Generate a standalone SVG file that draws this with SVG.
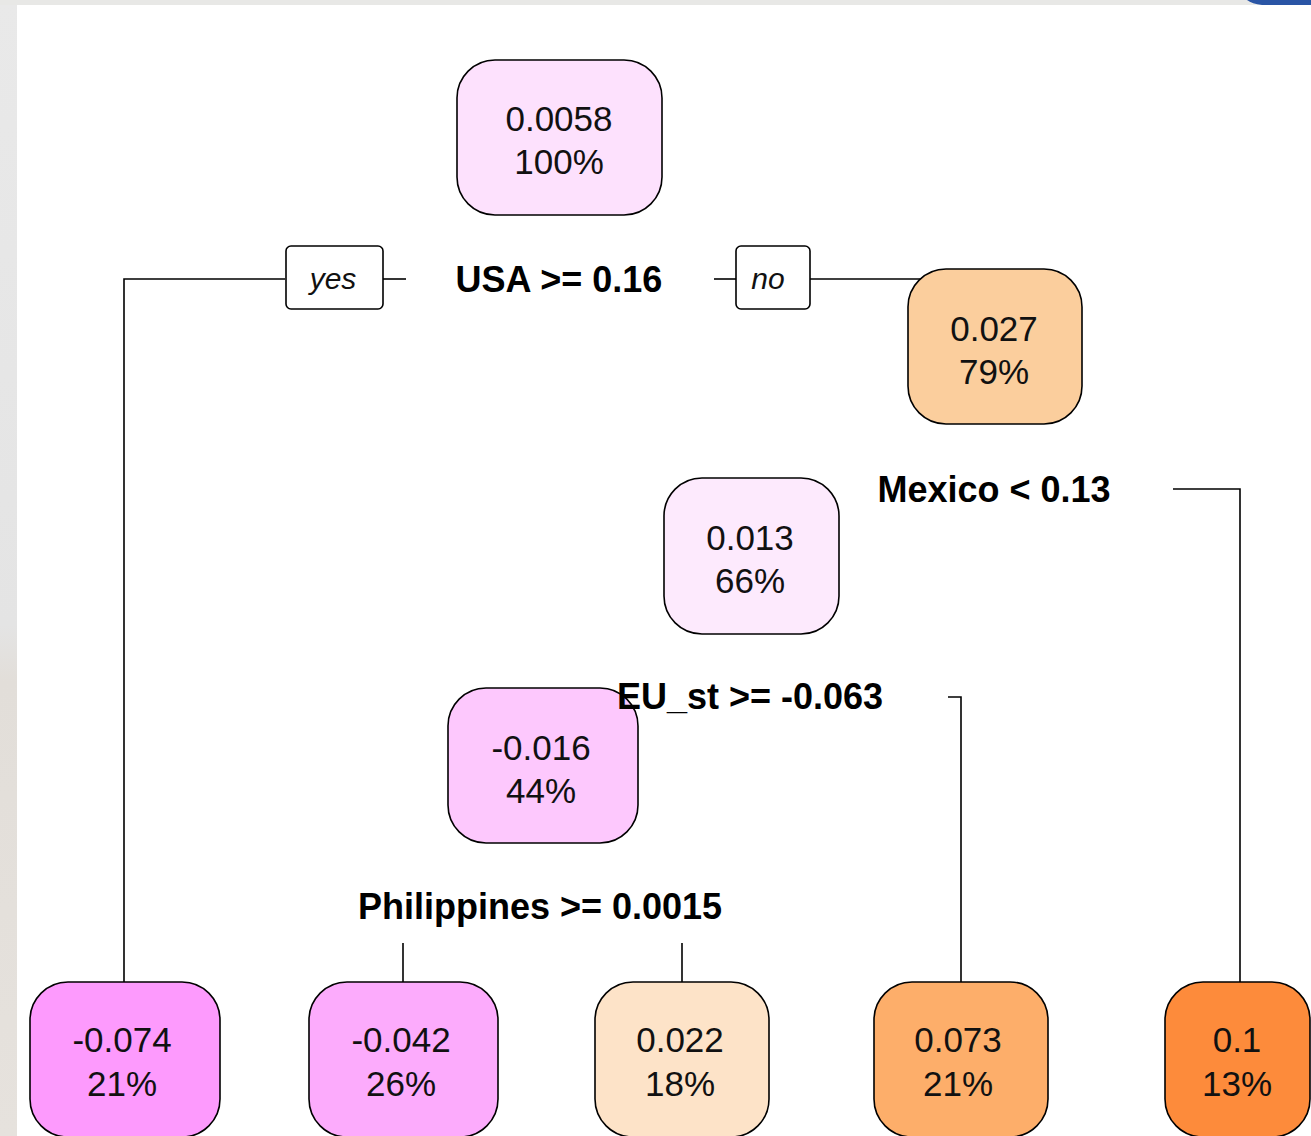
<svg xmlns="http://www.w3.org/2000/svg" width="1311" height="1136" viewBox="0 0 1311 1136">
  <style>
    .node { stroke: #000; stroke-width: 1.6; }
    .val { font-family: "Liberation Sans", Arial, sans-serif; font-size: 35px; fill: #111; text-anchor: middle; }
    .split { font-family: "Liberation Sans", Arial, sans-serif; font-size: 36px; font-weight: bold; fill: #000; text-anchor: middle; }
    .yn { font-family: "Liberation Sans", Arial, sans-serif; font-size: 30px; font-style: italic; fill: #111; text-anchor: middle; }
    .edge { fill: none; stroke: #000; stroke-width: 1.6; }
    .ynbox { fill: #fff; stroke: #000; stroke-width: 1.6; }
  </style>
  <defs>
    <linearGradient id="bgL" x1="0" y1="0" x2="0" y2="1">
      <stop offset="0" stop-color="#e9e9e9"/>
      <stop offset="0.55" stop-color="#e4e4e4"/>
      <stop offset="0.6" stop-color="#e2ded9"/>
      <stop offset="1" stop-color="#e6e2dd"/>
    </linearGradient>
  </defs>

  <!-- background -->
  <rect x="0" y="0" width="1311" height="1136" fill="#ffffff"/>
  <rect x="0" y="0" width="17" height="1136" fill="url(#bgL)"/>
  <rect x="0" y="0" width="1311" height="5" fill="#e8e8e6"/>
  <path d="M1247,0 L1311,0 L1311,5 L1262,5 Q1252,4 1247,0 Z" fill="#2a55a5"/>

  <!-- connectors -->
  <g id="connectors">
    <polyline class="edge" points="285,279 124,279 124,982"/>
    <line class="edge" x1="383" y1="279" x2="406" y2="279"/>
    <line class="edge" x1="714" y1="279" x2="736" y2="279"/>
    <line class="edge" x1="810" y1="279" x2="995" y2="279"/>
    <polyline class="edge" points="1173,489 1240,489 1240,982"/>
    <polyline class="edge" points="948,697 961,697 961,982"/>
    <line class="edge" x1="403" y1="943" x2="403" y2="982"/>
    <line class="edge" x1="682" y1="943" x2="682" y2="982"/>
  </g>

  <!-- split labels -->
  <g id="split-usa">
    <rect class="ynbox" x="286" y="246" width="97" height="63" rx="5"/>
    <text class="yn" x="333" y="289">yes</text>
    <text class="split" x="559" y="292">USA &gt;= 0.16</text>
    <rect class="ynbox" x="736" y="246" width="74" height="63" rx="5"/>
    <text class="yn" x="768" y="289">no</text>
  </g>
  <g id="split-mexico">
    <text class="split" x="994" y="502">Mexico &lt; 0.13</text>
  </g>
  <g id="split-philippines">
    <text class="split" x="540" y="919">Philippines &gt;= 0.0015</text>
  </g>

  <!-- nodes -->
  <g id="n-root">
    <rect class="node" x="457" y="60" width="205" height="155" rx="38" fill="#fde1fd"/>
    <text class="val" x="559" y="131">0.0058</text>
    <text class="val" x="559" y="174">100%</text>
  </g>
  <g id="n-0027">
    <rect class="node" x="908" y="269" width="174" height="155" rx="38" fill="#fbce9d"/>
    <text class="val" x="994" y="341">0.027</text>
    <text class="val" x="994" y="384">79%</text>
  </g>
  <g id="n-0013">
    <rect class="node" x="664" y="478" width="175" height="156" rx="38" fill="#fdeafd"/>
    <text class="val" x="750" y="550">0.013</text>
    <text class="val" x="750" y="593">66%</text>
  </g>
  <g id="n-m0016">
    <rect class="node" x="448" y="688" width="190" height="155" rx="38" fill="#fdc8fd"/>
    <text class="val" x="541" y="760">-0.016</text>
    <text class="val" x="541" y="803">44%</text>
  </g>
  <g id="split-eu">
    <text class="split" x="750" y="709">EU_st &gt;= -0.063</text>
  </g>
  <g id="leaf-m0074">
    <rect class="node" x="30" y="982" width="190" height="155" rx="38" fill="#fd9afd"/>
    <text class="val" x="122" y="1052">-0.074</text>
    <text class="val" x="122" y="1096">21%</text>
  </g>
  <g id="leaf-m0042">
    <rect class="node" x="309" y="982" width="189" height="155" rx="38" fill="#fcabfc"/>
    <text class="val" x="401" y="1052">-0.042</text>
    <text class="val" x="401" y="1096">26%</text>
  </g>
  <g id="leaf-0022">
    <rect class="node" x="595" y="982" width="174" height="155" rx="38" fill="#fde3c8"/>
    <text class="val" x="680" y="1052">0.022</text>
    <text class="val" x="680" y="1096">18%</text>
  </g>
  <g id="leaf-0073">
    <rect class="node" x="874" y="982" width="174" height="155" rx="38" fill="#fdae6a"/>
    <text class="val" x="958" y="1052">0.073</text>
    <text class="val" x="958" y="1096">21%</text>
  </g>
  <g id="leaf-01">
    <rect class="node" x="1165" y="982" width="145" height="155" rx="38" fill="#fd8b3b"/>
    <text class="val" x="1237" y="1052">0.1</text>
    <text class="val" x="1237" y="1096">13%</text>
  </g>
</svg>
